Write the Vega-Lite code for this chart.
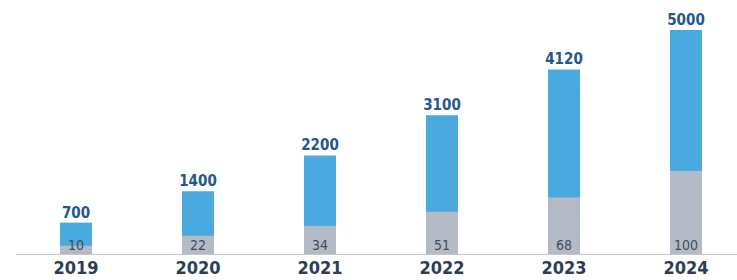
{
  "$schema": "https://vega.github.io/schema/vega-lite/v6.json",
  "autosize": "none",
  "padding": {"left": 10, "top": 0, "right": 0, "bottom": 26},
  "width": 727,
  "height": 254,
  "background": "white",
  "data": {"values": [
    {"year": "2019", "total": 700, "gray": 10},
    {"year": "2020", "total": 1400, "gray": 22},
    {"year": "2021", "total": 2200, "gray": 34},
    {"year": "2022", "total": 3100, "gray": 51},
    {"year": "2023", "total": 4120, "gray": 68},
    {"year": "2024", "total": 5000, "gray": 100}
  ]},
  "encoding": {
    "x": {
      "field": "year", "type": "nominal", "sort": null,
      "scale": {"range": [5, 737], "paddingInner": 0, "paddingOuter": 0},
      "axis": {"title": null, "domainColor": "#c8c8c8", "domainWidth": 1, "ticks": false, "labelAngle": 0, "labelFont": "DejaVu Sans Condensed", "labelFontSize": 18, "labelFontWeight": "bold", "labelColor": "#2b3e56", "labelPadding": 5, "grid": false}
    }
  },
  "layer": [
    {
      "encoding": {
        "y": {"field": "total", "type": "quantitative", "scale": {"domain": [0, 5670], "nice": false, "zero": true}, "axis": null}
      },
      "layer": [
        {"mark": {"type": "bar", "width": 32, "color": "#4aa9df"}},
        {"mark": {"type": "text", "baseline": "bottom", "dy": -2, "font": "DejaVu Sans Condensed", "fontWeight": "bold", "fontSize": 15, "color": "#24578e"},
         "encoding": {"text": {"field": "total", "type": "quantitative", "format": "d"}}}
      ]
    },
    {
      "layer": [
        {"mark": {"type": "bar", "width": 32, "color": "#b4bbc7"},
         "encoding": {"y": {"field": "gray", "type": "quantitative", "scale": {"domain": [0, 306], "nice": false, "zero": true}, "axis": null}}},
        {"mark": {"type": "text", "baseline": "bottom", "dy": -1, "font": "DejaVu Sans Condensed", "fontSize": 14, "color": "#3f4c5c"},
         "encoding": {"y": {"datum": 0, "type": "quantitative"}, "text": {"field": "gray", "type": "quantitative", "format": "d"}}}
      ]
    }
  ],
  "resolve": {"scale": {"y": "independent"}},
  "config": {"view": {"stroke": null}}
}
